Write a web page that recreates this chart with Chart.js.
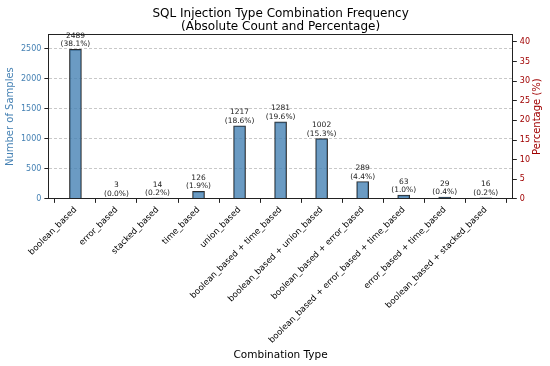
<!DOCTYPE html>
<html>
<head>
<meta charset="utf-8">
<script src="https://cdn.jsdelivr.net/npm/chart.js@4.4.0/dist/chart.umd.min.js"></script>
<style>
  html, body { margin: 0; padding: 0; background: #fff; }
  #wrap { width: 550px; height: 366px; }
</style>
</head>
<body>
<div id="wrap"><canvas id="sqli_chart" width="550" height="366"></canvas></div>
<script>
// combination names, as on the x axis
const combo_labels = [
    'boolean_based', 'error_based', 'stacked_based', 'time_based', 'union_based',
    'boolean_based + time_based', 'boolean_based + union_based',
    'boolean_based + error_based', 'boolean_based + error_based + time_based',
    'error_based + time_based', 'boolean_based + stacked_based'
];
const combo_counts = [2489, 3, 14, 126, 1217, 1281, 1002, 289, 63, 29, 16];
const combo_percents = [38.1, 0.0, 0.2, 1.9, 18.6, 19.6, 15.3, 4.4, 1.0, 0.4, 0.2];
const count_ticks = [0, 500, 1000, 1500, 2000, 2500];
const percent_ticks = [0, 5, 10, 15, 20, 25, 30, 35, 40];

const FONT = "'DejaVu Sans', sans-serif";
const BLUE = '#4682B4';
const RED = '#a00000';

// headroom like the original (max * 1.1)
const count_max = Math.max(...combo_counts) * 1.1;
const percent_max = Math.max(...combo_percents) * 1.1;

// two-line annotation above each bar
const barLabels = {
    id: 'barLabels',
    afterDatasetsDraw(chart) {
        const ctx = chart.ctx;
        const meta = chart.getDatasetMeta(0);
        ctx.save();
        ctx.font = '7.5px ' + FONT;
        ctx.fillStyle = '#222';
        ctx.textAlign = 'center';
        ctx.textBaseline = 'alphabetic';
        meta.data.forEach(function (bar, i) {
            ctx.fillText('(' + combo_percents[i].toFixed(1) + '%)', bar.x, bar.y - 3);
            ctx.fillText(String(combo_counts[i]), bar.x, bar.y - 11.5);
        });
        ctx.restore();
    }
};

// box around plot area + right axis title (reads bottom to top)
const frame = {
    id: 'frame',
    afterDraw(chart) {
        const a = chart.chartArea;
        const ctx = chart.ctx;
        ctx.save();
        ctx.strokeStyle = '#222';
        ctx.lineWidth = 1;
        ctx.strokeRect(Math.round(a.left) + 0.5, Math.round(a.top) + 0.5,
            Math.round(a.right - a.left), Math.round(a.bottom - a.top));

        ctx.translate(a.right + 25, (a.top + a.bottom) / 2);
        ctx.rotate(-Math.PI / 2);
        ctx.font = '10px ' + FONT;
        ctx.fillStyle = RED;
        ctx.textAlign = 'center';
        ctx.textBaseline = 'middle';
        ctx.fillText('Percentage (%)', 0, 0);
        ctx.restore();
    }
};

const ctx = document.getElementById('sqli_chart');

new Chart(ctx, {
    type: 'bar',
    data: {
        datasets: [{
            label: 'Count',
            data: combo_counts.map(function (v, i) { return { x: i, y: v }; }),
            backgroundColor: 'rgba(70,130,180,0.8)',
            borderColor: '#2b2b2b',
            borderWidth: 1,
            barThickness: 12,
            yAxisID: 'y'
        }]
    },
    options: {
        responsive: false,
        animation: false,
        layout: { padding: { top: 2, right: 17, left: 4, bottom: 4 } },
        plugins: {
            legend: { display: false },
            tooltip: { enabled: false },
            title: {
                display: true,
                fullSize: false,
                text: ['SQL Injection Type Combination Frequency', '(Absolute Count and Percentage)'],
                color: '#000',
                font: { family: FONT, size: 12, weight: 'normal', lineHeight: 1.1 },
                padding: { top: 5, bottom: 1 }
            }
        },
        scales: {
            x: {
                type: 'linear',
                offset: false,
                min: -0.66,
                max: 10.66,
                afterBuildTicks: function (axis) {
                    axis.ticks = combo_labels.map(function (l, i) { return { value: i }; });
                },
                ticks: {
                    autoSkip: false,
                    minRotation: 45,
                    maxRotation: 45,
                    color: '#000',
                    padding: 2,
                    font: { family: FONT, size: 8.5 },
                    callback: function (v) { return combo_labels[v]; }
                },
                grid: { drawOnChartArea: false, tickLength: 4, tickColor: '#222' },
                border: { color: '#222' },
                title: {
                    display: true,
                    text: 'Combination Type',
                    color: '#000',
                    font: { family: FONT, size: 10.5 },
                    padding: { top: 2, bottom: 0 }
                }
            },
            y: {
                position: 'left',
                min: 0,
                max: count_max,
                afterBuildTicks: function (axis) {
                    axis.ticks = count_ticks.map(function (v) { return { value: v }; });
                },
                ticks: {
                    color: BLUE, padding: 3, font: { family: FONT, size: 8 },
                    callback: function (v) { return String(v); }
                },
                grid: { color: '#c8c8c8', tickColor: '#222', tickLength: 4 },
                border: { color: '#222', dash: [3, 2] },
                title: {
                    display: true,
                    text: 'Number of Samples',
                    color: BLUE,
                    font: { family: FONT, size: 10 },
                    padding: { top: 0, bottom: 2 }
                }
            },
            y1: {
                position: 'right',
                min: 0,
                max: percent_max,
                afterBuildTicks: function (axis) {
                    axis.ticks = percent_ticks.map(function (v) { return { value: v }; });
                },
                ticks: {
                    color: RED, padding: 3, font: { family: FONT, size: 8 },
                    callback: function (v) { return String(v); }
                },
                grid: { drawOnChartArea: false, tickColor: '#222', tickLength: 4 },
                border: { color: '#222' }
            }
        }
    },
    plugins: [barLabels, frame]
});
</script>
</body>
</html>
